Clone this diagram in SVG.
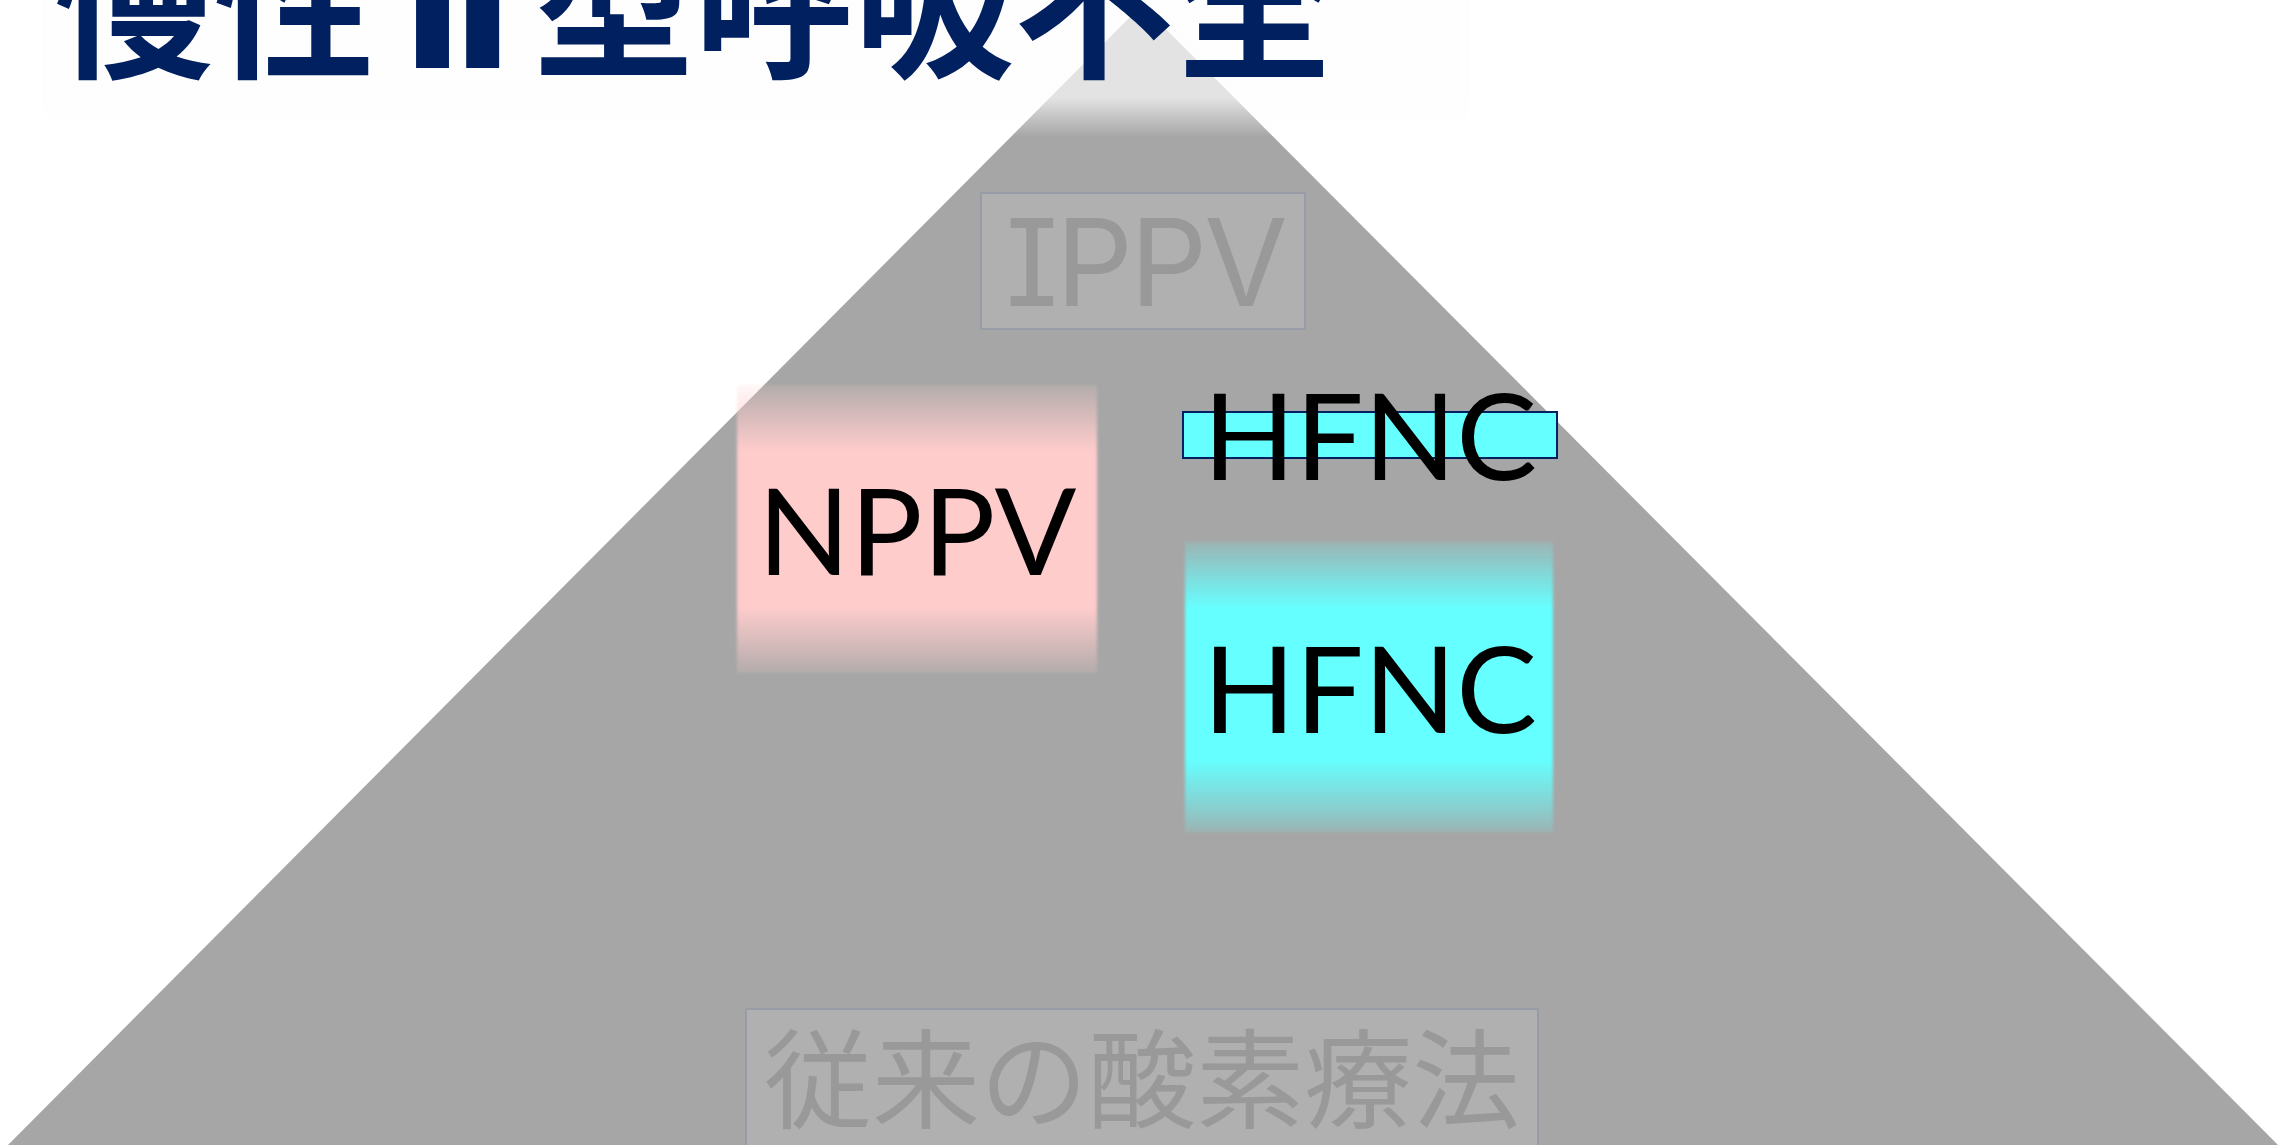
<svg xmlns="http://www.w3.org/2000/svg" width="2280" height="1145" viewBox="0 0 2280 1145">
<defs>
<style>
.title{font-family:"Noto Sans CJK JP","Noto Sans CJK SC",sans-serif;font-weight:bold;font-size:160px;fill:#002060}
.lat{font-family:Lato,"Noto Sans",sans-serif;font-size:121px;fill:#000;text-anchor:middle}
.dim{font-family:Inter,sans-serif;font-feature-settings:"cv08";font-size:121px;fill:#999;text-anchor:middle}
.dimj{font-family:"Noto Sans CJK JP",sans-serif;font-size:108px;fill:#999;text-anchor:middle}
.lvl{fill:#b0b0b0;stroke:#979ca6;stroke-width:2}
</style>
<linearGradient id="panelFade" gradientUnits="userSpaceOnUse" x1="0" y1="-60" x2="0" y2="137">
<stop offset="0" stop-color="#fdfdfd" stop-opacity="0.7"/>
<stop offset="0.8" stop-color="#fdfdfd" stop-opacity="0.7"/>
<stop offset="1" stop-color="#fdfdfd" stop-opacity="0"/>
</linearGradient>
<linearGradient id="pinkFade" x1="0" y1="0" x2="0" y2="1">
<stop offset="0" stop-color="#ffcccc" stop-opacity="0.15"/>
<stop offset="0.08" stop-color="#ffcccc" stop-opacity="0.45"/>
<stop offset="0.23" stop-color="#ffcccc" stop-opacity="1"/>
<stop offset="0.77" stop-color="#ffcccc" stop-opacity="1"/>
<stop offset="0.92" stop-color="#ffcccc" stop-opacity="0.45"/>
<stop offset="1" stop-color="#ffcccc" stop-opacity="0.15"/>
</linearGradient>
<linearGradient id="cyanFade" x1="0" y1="0" x2="0" y2="1">
<stop offset="0" stop-color="#66ffff" stop-opacity="0.15"/>
<stop offset="0.08" stop-color="#66ffff" stop-opacity="0.45"/>
<stop offset="0.23" stop-color="#66ffff" stop-opacity="1"/>
<stop offset="0.75" stop-color="#66ffff" stop-opacity="1"/>
<stop offset="0.92" stop-color="#66ffff" stop-opacity="0.45"/>
<stop offset="1" stop-color="#66ffff" stop-opacity="0.15"/>
</linearGradient>
<filter id="soft" x="-5%" y="-5%" width="110%" height="110%">
<feGaussianBlur stdDeviation="1.8"/>
</filter>
</defs>
<rect width="2280" height="1145" fill="#fff"/>
<g id="pyramid">
<polygon points="1142,5 2278,1145 8,1145" fill="#a6a6a6"/>
</g>
<g id="title">
<rect x="42" y="-60" width="1428" height="197" rx="30" fill="url(#panelFade)"/>
<text class="title" x="54" y="66">慢性<tspan x="400" y="68" font-family="DejaVu Sans" font-size="175">Ⅱ</tspan><tspan x="534" y="66">型呼吸不全</tspan></text>
</g>
<g id="ippv">
<rect class="lvl" x="981" y="193" width="324" height="136"/>
<text class="dim" x="1145" y="306" letter-spacing="-3">IPPV</text>
</g>
<g id="nppv">
<rect x="737" y="385" width="360" height="288" fill="url(#pinkFade)" filter="url(#soft)"/>
<text class="lat" x="917" y="575">NPPV</text>
</g>
<g id="hfnc">
<rect x="1185" y="542" width="368" height="290" fill="url(#cyanFade)" filter="url(#soft)"/>
<text class="lat" x="1370" y="733">HFNC</text>
</g>
<g id="hfnc-label">
<rect x="1183" y="412" width="374" height="46" fill="#66ffff" stroke="#002060" stroke-width="2"/>
<text class="lat" x="1370" y="480">HFNC</text>
</g>
<g id="conventional">
<rect class="lvl" x="746" y="1009" width="792" height="150"/>
<text class="dimj" x="1142" y="1120">従来の酸素療法</text>
</g>
<g id="connectors"/>
</svg>
